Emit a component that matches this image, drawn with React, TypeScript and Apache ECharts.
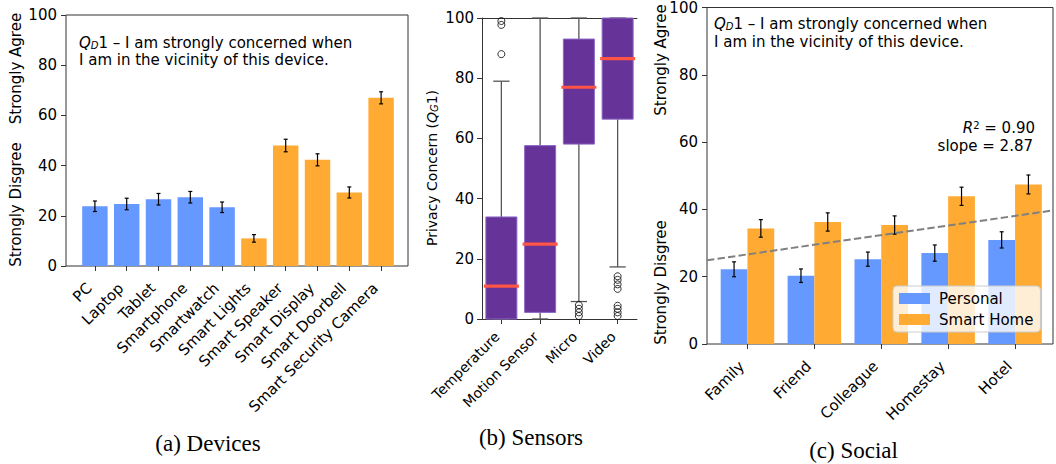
import React, { useEffect, useRef } from 'react';
import * as echarts from 'echarts';

// ---------- data ----------
const devices = ['PC', 'Laptop', 'Tablet', 'Smartphone', 'Smartwatch', 'Smart Lights', 'Smart Speaker', 'Smart Display', 'Smart Doorbell', 'Smart Security Camera'];
const deviceMeans = [23.8, 24.7, 26.6, 27.4, 23.4, 11.0, 48.0, 42.3, 29.3, 67.0];
const deviceErrs = [2.1, 2.3, 2.3, 2.3, 2.1, 1.5, 2.5, 2.4, 2.2, 2.4];
const deviceIsSmartHome = [false, false, false, false, false, true, true, true, true, true];

const sensors = ['Temperature', 'Motion Sensor', 'Micro', 'Video'];
// [lower whisker, Q1, median, Q3, upper whisker]
const sensorBoxes = [
  [0, 0, 10.9, 33.9, 79.0],
  [0, 2.2, 24.9, 57.6, 100],
  [5.8, 58.1, 77.0, 93.0, 100],
  [17.3, 66.4, 86.5, 100, 100],
];
const sensorOutliers = [
  [0, 88], [0, 97.7], [0, 99],
  [2, 1], [2, 2.2], [2, 3.4], [2, 4.6],
  [3, 1], [3, 2.2], [3, 3.4], [3, 4.4],
  [3, 10], [3, 11.5], [3, 13], [3, 14.2],
];

const socialCats = ['Family', 'Friend', 'Colleague', 'Homestay', 'Hotel'];
const personalMeans = [22.1, 20.2, 25.1, 26.9, 30.8];
const personalErrs = [2.2, 2.0, 2.1, 2.4, 2.4];
const smartHomeMeans = [34.2, 36.1, 35.2, 43.7, 47.2];
const smartHomeErrs = [2.6, 2.7, 2.7, 2.7, 2.8];
const trendLine = [[-0.6, 24.9], [4.56, 39.7]];

const BLUE = '#6699ff';
const ORANGE = '#ffaa33';
const PURPLE = '#663399';
const MEDIAN = '#ff5544';
const FONT = 'DejaVu Sans';
const SERIF = 'Liberation Serif';
const SPINE = '#333';

const errRender = (offsetFrac: number) => (params: any, api: any) => {
  const i = api.value(0);
  const m = api.value(1);
  const e = api.value(2);
  const hi = api.coord([i, m + e]);
  const lo = api.coord([i, m - e]);
  const bw = api.size([1, 0])[0];
  const x = hi[0] + offsetFrac * bw;
  const st = { stroke: '#000', lineWidth: 1.2 };
  return {
    type: 'group',
    children: [
      { type: 'line', shape: { x1: x, y1: hi[1], x2: x, y2: lo[1] }, style: st },
      { type: 'line', shape: { x1: x - 2, y1: hi[1], x2: x + 2, y2: hi[1] }, style: st },
      { type: 'line', shape: { x1: x - 2, y1: lo[1], x2: x + 2, y2: lo[1] }, style: st },
    ],
  };
};

const boxRender = (params: any, api: any) => {
  const i = api.value(0);
  const lo = api.value(1), q1 = api.value(2), med = api.value(3), q3 = api.value(4), hi = api.value(5);
  const bw = api.size([1, 0])[0];
  const x = api.coord([i, med])[0];
  const yLo = api.coord([i, lo])[1];
  const yQ1 = api.coord([i, q1])[1];
  const yMed = api.coord([i, med])[1];
  const yQ3 = api.coord([i, q3])[1];
  const yHi = api.coord([i, hi])[1];
  const half = bw * 0.4;
  const cap = bw * 0.21;
  const ws = { stroke: '#555', lineWidth: 1.3 };
  return {
    type: 'group',
    children: [
      { type: 'line', shape: { x1: x, y1: yHi, x2: x, y2: yQ3 }, style: ws },
      { type: 'line', shape: { x1: x, y1: yQ1, x2: x, y2: yLo }, style: ws },
      { type: 'line', shape: { x1: x - cap, y1: yHi, x2: x + cap, y2: yHi }, style: ws },
      { type: 'line', shape: { x1: x - cap, y1: yLo, x2: x + cap, y2: yLo }, style: ws },
      { type: 'rect', shape: { x: x - half, y: yQ3, width: 2 * half, height: yQ1 - yQ3 }, style: { fill: PURPLE, stroke: '#8c66c4', lineWidth: 1 } },
      { type: 'line', shape: { x1: x - half - 2, y1: yMed, x2: x + half + 2, y2: yMed }, style: { stroke: MEDIAN, lineWidth: 3.2 } },
    ],
  };
};

const yValueAxis = (gridIndex: number, margin: number) => ({
  type: 'value', gridIndex, min: 0, max: 100, interval: 20,
  axisLine: { show: false, onZero: false },
  axisTick: { show: true, inside: false, length: 5, lineStyle: { color: SPINE } },
  axisLabel: { fontSize: 15, fontFamily: FONT, color: '#000', margin },
  splitLine: { show: false },
});
const hiddenY = (gridIndex: number) => ({
  type: 'value', gridIndex, min: 0, max: 100, show: false, splitLine: { show: false },
  axisLine: { onZero: false },
});

const rotText = (text: string, x: number, y: number, size = 15, rich?: any) => ({
  type: 'text', x, y, rotation: Math.PI / 2,
  style: { text, fontSize: size, fontFamily: FONT, fill: '#000', align: 'center', verticalAlign: 'middle', rich },
});

const richQ = {
  i: { fontStyle: 'italic', fontSize: 15, fontFamily: FONT, fill: '#000' },
  s: { fontStyle: 'italic', fontSize: 10, fontFamily: FONT, fill: '#000', verticalAlign: 'bottom' },
  p: { fontSize: 10, fontFamily: FONT, fill: '#000', verticalAlign: 'top' },
};
const txt = (text: string, x: number, y: number, align = 'left', rich: any = richQ) => ({
  type: 'text', x, y,
  style: { text, fontSize: 15, fontFamily: FONT, fill: '#000', align, verticalAlign: 'middle', rich },
});
const caption = (text: string, x: number, y: number) => ({
  type: 'text', x, y,
  style: { text, fontSize: 23, fontFamily: SERIF, fill: '#000', align: 'center', verticalAlign: 'middle' },
});

export default function App() {
  const ref = useRef<HTMLDivElement>(null);
  useEffect(() => {
    document.body.style.margin = '0';
    const chart = echarts.init(ref.current!, null, { renderer: 'svg' });
    const option: any = {
      animation: false,
      backgroundColor: '#fff',
      grid: [
        { left: 66, top: 15, width: 342, height: 251, show: true, borderColor: SPINE, borderWidth: 1, backgroundColor: 'transparent' },
        { left: 79, top: 15, width: 318, height: 251 },
        { left: 482, top: 18, width: 155, height: 301 },
        { left: 707, top: 6, width: 346, height: 338, show: true, borderColor: SPINE, borderWidth: 1, backgroundColor: 'transparent' },
        { left: 714, top: 6, width: 334.5, height: 338 },
      ],
      xAxis: [
        { type: 'value', gridIndex: 0, min: 0, max: 1, show: false, splitLine: { show: false }, axisLine: { onZero: false } },
        {
          type: 'category', gridIndex: 1, data: devices,
          axisLine: { show: false, onZero: false },
          axisTick: { show: true, alignWithLabel: true, length: 5, lineStyle: { color: SPINE } },
          axisLabel: { rotate: 45, fontSize: 15, fontFamily: FONT, color: '#000', interval: 0, margin: 14, padding: [0, 8, 0, 0] },
        },
        {
          type: 'category', gridIndex: 2, data: sensors,
          axisLine: { show: true, onZero: false, lineStyle: { color: SPINE, width: 1 } },
          axisTick: { show: true, alignWithLabel: true, length: 5, lineStyle: { color: SPINE } },
          axisLabel: { rotate: 45, fontSize: 14, fontFamily: FONT, color: '#000', interval: 0, margin: 11, padding: [0, 6, 0, 0] },
        },
        {
          type: 'category', gridIndex: 2, data: sensors, position: 'top',
          axisLine: { show: true, onZero: false, lineStyle: { color: SPINE, width: 1 } },
          axisTick: { show: false }, axisLabel: { show: false },
        },
        { type: 'value', gridIndex: 3, min: -0.6, max: 4.56, show: false, splitLine: { show: false }, axisLine: { onZero: false } },
        {
          type: 'category', gridIndex: 4, data: socialCats,
          axisLine: { show: false, onZero: false },
          axisTick: { show: true, alignWithLabel: true, length: 5, lineStyle: { color: SPINE } },
          axisLabel: { rotate: 45, fontSize: 15, fontFamily: FONT, color: '#000', interval: 0, margin: 14, padding: [0, 8, 0, 0] },
        },
      ],
      yAxis: [
        yValueAxis(0, 9),
        hiddenY(1),
        { ...yValueAxis(2, 8), axisLine: { show: true, onZero: false, lineStyle: { color: SPINE, width: 1 } } },
        yValueAxis(3, 9),
        hiddenY(4),
      ],
      legend: {
        data: ['Personal', 'Smart Home'], orient: 'vertical', left: 893, top: 286,
        itemWidth: 31, itemHeight: 11, itemGap: 6, icon: 'rect',
        padding: [5, 7, 5, 6],
        backgroundColor: 'rgba(255,255,255,0.8)', borderColor: '#cccccc', borderWidth: 1, borderRadius: 4,
        textStyle: { fontSize: 15, fontFamily: FONT, color: '#000', padding: [0, 0, 0, 4] },
      },
      series: [
        {
          type: 'bar', xAxisIndex: 1, yAxisIndex: 1, barWidth: '80%',
          data: deviceMeans.map((v, i) => ({ value: v, itemStyle: { color: deviceIsSmartHome[i] ? ORANGE : BLUE } })),
        },
        {
          type: 'custom', xAxisIndex: 1, yAxisIndex: 1, z: 4,
          renderItem: errRender(0), encode: { x: 0, y: 1 },
          data: deviceMeans.map((v, i) => [i, v, deviceErrs[i]]),
        },
        {
          type: 'custom', xAxisIndex: 2, yAxisIndex: 2, z: 2,
          renderItem: boxRender, encode: { x: 0, y: [1, 2, 3, 4, 5] },
          data: sensorBoxes.map((b, i) => [i, ...b]),
        },
        {
          type: 'scatter', xAxisIndex: 2, yAxisIndex: 2, z: 3, symbol: 'circle', symbolSize: 7,
          itemStyle: { color: 'rgba(0,0,0,0)', borderColor: '#000', borderWidth: 1 },
          data: sensorOutliers,
        },
        {
          name: 'Personal', type: 'bar', xAxisIndex: 5, yAxisIndex: 4, barWidth: '40%', barGap: '0%',
          itemStyle: { color: BLUE }, data: personalMeans,
        },
        {
          name: 'Smart Home', type: 'bar', xAxisIndex: 5, yAxisIndex: 4, barWidth: '40%', barGap: '0%',
          itemStyle: { color: ORANGE }, data: smartHomeMeans,
        },
        {
          type: 'custom', xAxisIndex: 5, yAxisIndex: 4, z: 4,
          renderItem: errRender(-0.2), encode: { x: 0, y: 1 },
          data: personalMeans.map((v, i) => [i, v, personalErrs[i]]),
        },
        {
          type: 'custom', xAxisIndex: 5, yAxisIndex: 4, z: 4,
          renderItem: errRender(0.2), encode: { x: 0, y: 1 },
          data: smartHomeMeans.map((v, i) => [i, v, smartHomeErrs[i]]),
        },
        {
          type: 'line', xAxisIndex: 4, yAxisIndex: 3, z: 5, symbol: 'none',
          lineStyle: { color: '#808080', width: 2, type: [7.4, 3.2] },
          data: trendLine,
        },
      ],
      graphic: [
        rotText('Strongly Agree', 16, 68.5),
        rotText('Strongly Disgree', 16, 204.5),
        rotText('Strongly Agree', 661, 60),
        rotText('Strongly Disgree', 661, 282.5),
        rotText('Privacy Concern ({i|Q}{s|G}1)', 432, 168, 14, {
          i: { fontStyle: 'italic', fontSize: 14, fontFamily: FONT, fill: '#000' },
          s: { fontStyle: 'italic', fontSize: 10, fontFamily: FONT, fill: '#000', verticalAlign: 'bottom' },
        }),
        txt('{i|Q}{s|D}1 – I am strongly concerned when', 79, 42.5),
        txt('I am in the vicinity of this device.', 79, 60),
        txt('{i|Q}{s|D}1 – I am strongly concerned when', 714, 24),
        txt('I am in the vicinity of this device.', 714, 41.5),
        txt('{i|R}{p|2} = 0.90', 1035, 128, 'right'),
        txt('slope = 2.87', 1033, 145.5, 'right'),
        caption('(a) Devices', 208, 443),
        caption('(b) Sensors', 531, 437.5),
        caption('(c) Social', 853.5, 450.5),
      ],
    };
    chart.setOption(option);
    return () => chart.dispose();
  }, []);
  return <div ref={ref} style={{ width: 1056, height: 464 }} />;
}
